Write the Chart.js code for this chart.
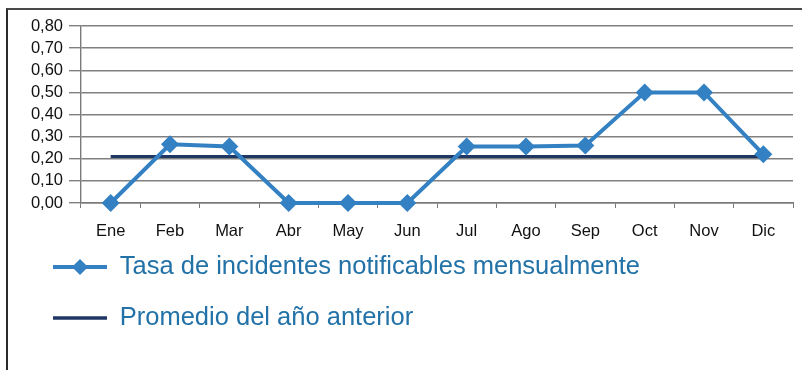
<!DOCTYPE html>
<html>
<head>
<meta charset="utf-8">
<script src="https://cdn.jsdelivr.net/npm/chart.js@4.4.1/dist/chart.umd.min.js"></script>
<style>
    html, body { margin: 0; padding: 0; background: #fff; }
    #frame {
        position: absolute; left: 6px; top: 8px; width: 820px; height: 380px;
        border-left: 2px solid #2b2b2b; border-top: 2px solid #4a4a4a;
    }
    #chart-incidentes { position: absolute; left: 0; top: 0; }
</style>
</head>
<body>
<div id="frame"></div>
<canvas id="chart-incidentes" width="802" height="370"></canvas>
<script>
const meses = ['Ene', 'Feb', 'Mar', 'Abr', 'May', 'Jun', 'Jul', 'Ago', 'Sep', 'Oct', 'Nov', 'Dic'];
const tasaMensual = [0.00, 0.265, 0.255, 0.00, 0.00, 0.00, 0.255, 0.255, 0.26, 0.50, 0.50, 0.22];
const promedioAnterior = [0.21, 0.21, 0.21, 0.21, 0.21, 0.21, 0.21, 0.21, 0.21, 0.21, 0.21, 0.21];

const azul = '#3380c2';
const marino = '#1f3763';
const fuente = '"Liberation Sans", Arial, sans-serif';

// muestras de leyenda: linea con rombo y linea simple
function muestraLeyenda(color, grosor, conRombo) {
    let c = document.createElement('canvas');
    c.width = 54;
    c.height = 18;
    let ctx = c.getContext('2d');
    ctx.strokeStyle = color;
    ctx.lineWidth = grosor;
    ctx.beginPath();
    ctx.moveTo(0, 9);
    ctx.lineTo(54, 9);
    ctx.stroke();
    if (conRombo) {
        ctx.fillStyle = color;
        ctx.beginPath();
        ctx.moveTo(27, 1);
        ctx.lineTo(35, 9);
        ctx.lineTo(27, 17);
        ctx.lineTo(19, 9);
        ctx.closePath();
        ctx.fill();
    }
    return c;
}
const muestras = [muestraLeyenda(azul, 4, true), muestraLeyenda(marino, 3.5, false)];

// sube la leyenda para que quede pegada a las etiquetas de meses
const subirLeyenda = {
    id: 'subirLeyenda',
    afterLayout: function (chart) {
        chart.legend.top -= 14.25;
        chart.legend.bottom -= 14.25;
    }
};

new Chart(document.getElementById('chart-incidentes'), {
    type: 'line',
    data: {
        labels: meses,
        datasets: [
            {
                label: 'Tasa de incidentes notificables mensualmente',
                data: tasaMensual,
                borderColor: azul,
                backgroundColor: azul,
                borderWidth: 4,
                tension: 0,
                clip: false,
                pointStyle: 'rectRot',
                pointRadius: 9,
                pointBorderWidth: 0,
                pointBackgroundColor: azul
            },
            {
                label: 'Promedio del año anterior',
                data: promedioAnterior,
                borderColor: marino,
                backgroundColor: marino,
                borderWidth: 3,
                tension: 0,
                pointRadius: 0
            }
        ]
    },
    options: {
        responsive: false,
        animation: false,
        layout: {
            padding: { left: 27.5, top: 26, right: 9, bottom: 15 }
        },
        scales: {
            x: {
                offset: true,
                grid: {
                    offset: true,
                    drawOnChartArea: false,
                    tickLength: 5,
                    color: '#7a7a7a'
                },
                border: { color: '#7a7a7a', width: 1.4 },
                ticks: {
                    color: '#111',
                    padding: 14,
                    font: { family: fuente, size: 16.5 }
                },
                afterFit: function (scale) { scale.height = 40; }
            },
            y: {
                min: 0,
                max: 0.8,
                grid: {
                    color: '#808080',
                    lineWidth: 1.4,
                    tickLength: 12
                },
                border: { color: '#7a7a7a', width: 1.4 },
                ticks: {
                    stepSize: 0.1,
                    autoSkip: false,
                    color: '#111',
                    padding: 6,
                    font: { family: fuente, size: 16.5 },
                    callback: function (v) { return v.toFixed(2).replace('.', ','); }
                },
                afterFit: function (scale) { scale.width = 53.5; }
            }
        },
        plugins: {
            tooltip: { enabled: false },
            legend: {
                position: 'bottom',
                align: 'start',
                labels: {
                    usePointStyle: true,
                    pointStyleWidth: 54,
                    padding: 25.5,
                    color: '#2272a8',
                    font: { family: fuente, size: 25.5 },
                    generateLabels: function (chart) {
                        let items = Chart.defaults.plugins.legend.labels.generateLabels(chart);
                        items.forEach(function (item, i) { item.pointStyle = muestras[i]; });
                        return items;
                    }
                }
            }
        }
    },
    plugins: [subirLeyenda]
});
</script>
</body>
</html>
